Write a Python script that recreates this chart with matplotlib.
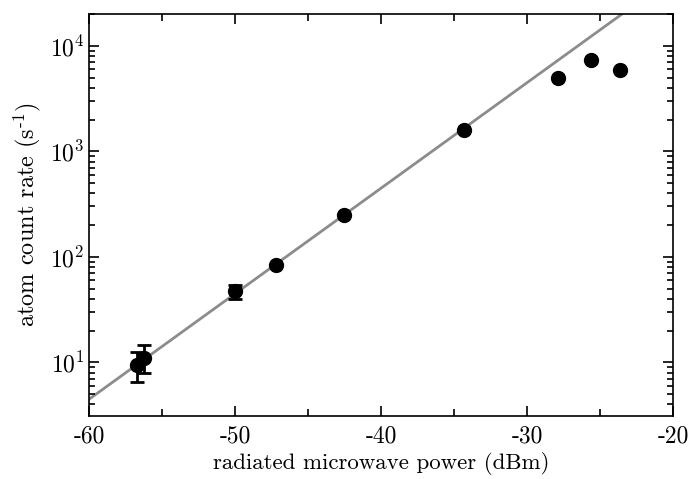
import numpy as np
import matplotlib as mpl
mpl.use('Agg')
import matplotlib.pyplot as plt
from matplotlib.ticker import MultipleLocator, LogLocator, FuncFormatter

plt.rcParams['font.family'] = 'serif'
plt.rcParams['font.serif'] = ['cmr10']
plt.rcParams['mathtext.fontset'] = 'cm'
plt.rcParams['axes.unicode_minus'] = False
plt.rcParams['axes.formatter.use_mathtext'] = True

# measured points
power = [-56.7, -56.2, -50.0, -47.2, -42.5, -34.3, -27.9, -25.6, -23.6]
rate = [9.5, 11.0, 47.0, 83.0, 250.0, 1600.0, 5000.0, 7400.0, 5900.0]
err_lo = [3.0, 3.0, 7.0, 0, 0, 0, 0, 0, 0]
err_hi = [3.0, 3.5, 7.0, 0, 0, 0, 0, 0, 0]

# linear fit, log10(rate) = a + b*power
fit_a = 6.65
fit_b = 0.1

fig = plt.figure(figsize=(6.92, 4.79), dpi=100)
ax = fig.add_axes([89/692, 1-416/479, (673-89)/692, (416-14)/479])

xx = np.array([-60, -20])
ax.plot(xx, 10**(fit_a + fit_b*xx), color='#8c8c8c', lw=2, zorder=1)
ax.errorbar(power, rate, yerr=[err_lo, err_hi], fmt='o', color='black',
            ms=10, elinewidth=2, capsize=5, capthick=2, zorder=2)

ax.set_yscale('log')
ax.set_xlim(-60, -20)
ax.set_ylim(3.1, 2.0e4)
ax.xaxis.set_major_locator(MultipleLocator(10))
ax.xaxis.set_minor_locator(MultipleLocator(5))
ax.xaxis.set_major_formatter(FuncFormatter(lambda v, p: '%d' % v))
ax.yaxis.set_major_locator(LogLocator(base=10, numticks=10))
ax.yaxis.set_minor_locator(LogLocator(base=10, subs=np.arange(2, 10), numticks=10))
ax.tick_params(which='both', direction='in', top=True, right=True, labelsize=17, width=1.2)
ax.tick_params(which='major', length=7)
ax.tick_params(which='minor', length=4)
ax.tick_params(axis='x', which='minor', length=5)
ax.tick_params(axis='x', pad=7)
for s in ax.spines.values():
    s.set_linewidth(1.2)

ax.set_xlabel('radiated microwave power (dBm)', fontsize=16.5, labelpad=3)
ax.set_ylabel(r'atom count rate (s$^{\text{-1}}$)', fontsize=17.5, labelpad=5)

fig.savefig('out.png', dpi=100)
